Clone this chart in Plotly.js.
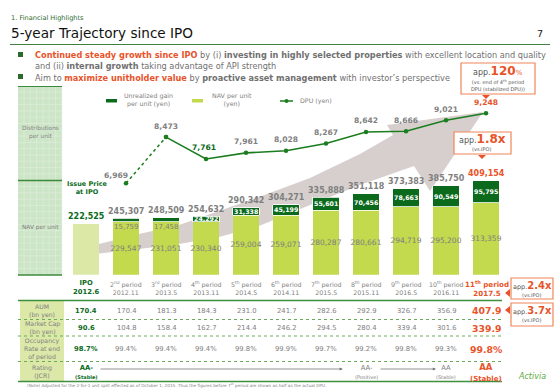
<!DOCTYPE html>
<html><head><meta charset="utf-8">
<script src="https://cdn.plot.ly/plotly-3.0.1.min.js"></script>
<style>html,body{margin:0;padding:0;background:#fff}#c{width:560px;height:389px}</style>
</head><body><div id="c"></div>
<script>
// ---- data ----
const periodNames = ['IPO','2<sup>nd</sup> period','3<sup>rd</sup> period','4<sup>th</sup> period','5<sup>th</sup> period','6<sup>th</sup> period','7<sup>th</sup> period','8<sup>th</sup> period','9<sup>th</sup> period','10<sup>th</sup> period','11<sup>th</sup> period'];
const periodDates = ['2012.6','2012.11','2013.5','2013.11','2014.5','2014.11','2015.5','2015.11','2016.5','2016.11','2017.5'];
const navPerUnit = [222525,229547,231051,230340,259004,259071,280287,280661,294719,295200,313359];
const unrealizedGain = [0,15759,17458,24292,31338,45199,55601,70456,78663,90549,95795];
const totalPerUnit = [222525,245307,248509,254632,290342,304271,335888,351118,373383,385750,409154];
const dpu = [null,6969,8473,7761,7961,8028,8267,8642,8666,9021,9248];
const aum = ['170.4','170.4','181.3','184.3','231.0','241.7','282.6','292.9','326.7','356.9','407.9'];
const marketCap = ['90.6','104.8','158.4','162.7','214.4','246.2','294.5','280.4','339.4','301.6','339.9'];
const occupancy = ['98.7%','99.4%','99.4%','99.4%','99.8%','99.9%','99.7%','99.2%','99.8%','99.3%','99.8%'];
const ratings = ['AA-','','','','','','','AA-','','AA','AA'];
const outlooks = ['(Stable)','','','','','','','(Positive)','','(Stable)','(Stable)'];

// ---- helpers ----
const W=560,H=389;
const X=v=>v/W, Y=v=>1-v/H;
const idx = periodDates.map((_,i)=>i);
const DARK='#0b6a1c', LIGHT='#c3d94e', PALE='#dbe8a6', LINE='#1b7d1f', OR='#e8532a', ORB='#f08658', GR='#7f7f7f';
const F='DejaVu Sans';
const last = idx.length-1;

const traces = [
 {type:'bar', x:idx, y:navPerUnit, marker:{color:idx.map(i=>i===0?PALE:LIGHT), line:{width:0}},
  text:navPerUnit.map((v,i)=>i===0?'':v.toLocaleString('en-US')), textposition:'inside', insidetextanchor:'middle',
  textfont:{family:F,size:7.5,color:GR}, constraintext:'none', textangle:0, hoverinfo:'none'},
 {type:'bar', x:idx, y:unrealizedGain, marker:{color:DARK, line:{color:'#ffffff',width:0.8}}, hoverinfo:'none'},
 {type:'scatter', x:[1,2], y:[dpu[1],dpu[2]], yaxis:'y2', mode:'lines+markers', line:{color:LINE,width:1.5,dash:'dot'}, marker:{size:4.5,color:LINE}, hoverinfo:'none'},
 {type:'scatter', x:idx.slice(2), y:dpu.slice(2), yaxis:'y2', mode:'lines+markers', line:{color:LINE,width:1.6}, marker:{size:4.5,color:LINE}, hoverinfo:'none'}
];

const ann = [];
const A = o => ann.push(Object.assign({showarrow:false, font:{family:F,size:7,color:GR}}, o));
const P = (x,y,text,size,color,xa,extra) => A(Object.assign({xref:'paper',yref:'paper',x:X(x),y:Y(y),text:text,xanchor:xa||'center',yanchor:'middle',font:{family:F,size:size,color:color}},extra||{}));

// header
P(9,18,'1. Financial Highlights',6.6,'#2e6b2e','left');
P(9,33,'5-year Trajectory since IPO',13.6,'#111','left');
P(545,34,'7',9.5,'#111','right');
// bullets
const bB = s=>'<b>'+s+'</b>', bO = s=>'<b><span style="color:'+OR+'">'+s+'</span></b>';
P(33,55,bO('Continued steady growth since IPO')+' by (i) '+bB('investing in highly selected properties')+' with excellent location and quality',8.2,'#707070','left');
P(33,66,'and (ii) '+bB('internal growth')+' taking advantage of API strength',8.2,'#707070','left');
P(33,78,'Aim to '+bO('maximize unitholder value')+' by '+bB('proactive asset management')+' with investor\u2019s perspective',8.2,'#707070','left');

// left panel labels
P(40,133,'Distributions<br>per unit',5.8,GR);
P(40,227,'NAV per unit',5.8,GR);
P(87,188,'<b>Issue Price<br>at IPO</b>',6.5,DARK);

// legend
P(122,100,'Unrealized gain<br>per unit (yen)',6.3,GR,'left');
P(210,100,'NAV per unit<br>(yen)',6.3,GR,'left');
P(298,101,'DPU (yen)',6.3,GR,'left');

// totals above bars
idx.forEach(i=>{
  const col = i===0?DARK:(i===last?OR:GR);
  A({xref:'x',yref:'y',x:i,y:totalPerUnit[i],yshift:7,yanchor:'middle',text:'<b>'+totalPerUnit[i].toLocaleString('en-US')+'</b>',font:{family:F,size:8,color:col}});
  if(i>0){
    if(i<3) A({xref:'x',yref:'y',x:i,y:navPerUnit[i],yshift:-5,yanchor:'middle',text:unrealizedGain[i].toLocaleString('en-US'),font:{family:F,size:7,color:GR}});
    else A({xref:'x',yref:'y',x:i,y:navPerUnit[i]+unrealizedGain[i]/2,yanchor:'middle',text:'<b>'+unrealizedGain[i].toLocaleString('en-US')+'</b>',font:{family:F,size:6.3,color:'#ffffff'}});
  }
});
// DPU labels
idx.forEach(i=>{
  if(dpu[i]==null) return;
  let col = GR, xs=0;
  if(i===1){xs=-10;}
  if(i===3){col=DARK;xs=-2;}
  if(i===last) col=OR;
  A({xref:'x',yref:'y2',x:i,y:dpu[i],yshift:i===1?8:11,xshift:xs,yanchor:'middle',text:'<b>'+dpu[i].toLocaleString('en-US')+'</b>',font:{family:F,size:7.6,color:col}});
});
// period labels
idx.forEach(i=>{
  if(i===0) A({xref:'x',yref:'paper',x:i,y:Y(287.5),yanchor:'middle',text:'<b>'+periodNames[i]+'<br>'+periodDates[i]+'</b>',font:{family:F,size:6.8,color:DARK}});
  else if(i===last) A({xref:'x',yref:'paper',x:i,y:Y(288),xshift:1,yanchor:'middle',text:'<b>'+periodNames[i]+'<br>'+periodDates[i]+'</b>',font:{family:F,size:7.1,color:OR}});
  else A({xref:'x',yref:'paper',x:i,y:Y(287.5),yanchor:'middle',text:periodNames[i]+'<br>'+periodDates[i],font:{family:F,size:6.3,color:GR}});
});
// table
const rows=[[aum,310.5],[marketCap,328],[occupancy,349]];
rows.forEach(([arr,y])=>{
  idx.forEach(i=>{
    const isF=i===0,isL=i===last;
    A({xref:'x',yref:'paper',x:i,y:Y(y),yanchor:'middle',text:(isF||isL)?'<b>'+arr[i]+'</b>':arr[i],font:{family:F,size:isL?9.3:6.8,color:isF?DARK:(isL?OR:GR)}});
  });
});
idx.forEach(i=>{
  if(!ratings[i]) return;
  const isF=i===0,isL=i===last, col=isF?DARK:(isL?OR:GR);
  const t = isF||isL ? '<b>'+ratings[i]+'<br><span style="font-size:'+(isL?7:5)+'px">'+outlooks[i]+'</span></b>' : ratings[i]+'<br><span style="font-size:5px">'+outlooks[i]+'</span>';
  A({xref:'x',yref:'paper',x:i,y:Y(372),yanchor:'middle',text:t,font:{family:F,size:isL?8.5:6.8,color:col}});
});
P(42,310.5,'AUM<br>(bn yen)',6.2,GR);
P(42,328,'Market Cap<br>(bn yen)',6.2,GR);
P(42,349,'Occupancy<br>Rate at end<br>of period',6.2,GR);
P(42,372,'Rating<br>(JCR)',6.2,GR);
// rating arrows
A({xref:'x',yref:'paper',x:6.42,y:Y(369),ax:0.3,ay:Y(369),axref:'x',ayref:'paper',showarrow:true,arrowhead:2,arrowsize:0.8,arrowwidth:0.8,arrowcolor:'#777',text:' '});
A({xref:'x',yref:'paper',x:8.75,y:Y(369),ax:7.3,ay:Y(369),axref:'x',ayref:'paper',showarrow:true,arrowhead:2,arrowsize:0.8,arrowwidth:0.8,arrowcolor:'#777',text:' '});
// footnote and logo
P(25,385,'(Note) Adjusted for the 2-for-1 unit split effected as of October 1, 2015. Thus the figures before 7<sup>th</sup> period are shown as half as the actual DPU.',4.2,GR,'left');
P(532,376,'<i>Activia</i>',8,'#5aab3a');
// callouts
P(498,71,'app.<b><span style="font-size:12px;color:'+OR+'">120</span></b><span style="color:'+OR+';font-size:7px">%</span>',8,'#555');
P(498,85,'(vs. end of 4<sup>th</sup> period<br>DPU (stabilized DPU))',5,'#555');
P(482,139,'app.<b><span style="font-size:12px;color:'+OR+'">1.8x</span></b>',8,'#555');
P(482,149,'(vs.IPO)',5,'#555');
P(532,285,'app.<b><span style="font-size:10px;color:'+OR+'">2.4x</span></b>',6.5,'#555');
P(532,294.5,'(vs.IPO)',5,'#555');
P(532,310,'app.<b><span style="font-size:10px;color:'+OR+'">3.7x</span></b>',6.5,'#555');
P(532,320,'(vs.IPO)',5,'#555');

// shapes
const shapes=[];
const R=(x0,y0,x1,y1,fill,lc,lw,layer,dash)=>shapes.push({type:'rect',xref:'paper',yref:'paper',x0:X(x0),y0:Y(y0),x1:X(x1),y1:Y(y1),fillcolor:fill||'rgba(0,0,0,0)',line:{color:lc||'rgba(0,0,0,0)',width:lw||0,dash:dash||'solid'},layer:layer||'above'});
const L=(x0,y0,x1,y1,c,w,dash,layer)=>shapes.push({type:'line',xref:'paper',yref:'paper',x0:X(x0),y0:Y(y0),x1:X(x1),y1:Y(y1),line:{color:c,width:w,dash:dash||'solid'},layer:layer||'above'});
const PATH=(pts,fill,layer)=>shapes.push({type:'path',xref:'paper',yref:'paper',path:'M'+pts.map(p=>X(p[0]).toFixed(5)+','+Y(p[1]).toFixed(5)).join(' L')+' Z',fillcolor:fill,line:{width:0},layer:layer||'above'});

L(10,44.5,550,44.5,'#3f7f3f',1);
R(18,52,23,57,'#2a6a2a');
R(18,74,23,79,'#2a6a2a');
// big arrow
PATH([[95,245],[139,234],[179,225],[219,211],[259,197],[310,178],[360,154],[393,135],[387,125],[483,112],[430,191],[414,166],[360,185],[310,205],[259,226],[219,237],[179,244],[139,249],[95,254]],'#d6cfcd','below');
// left panel
R(18,86,62,275,'#cde5c7',null,0,'below');
for(let x=24;x<62;x+=6.3) L(x,86,x,275,'#dfeedb',0.6,'solid','below');
for(let y=92;y<275;y+=6.3) L(18,y,62,y,'#dfeedb',0.6,'solid','below');
L(18,86.5,62,86.5,'#3b8a3b',1.2);
L(18,180.5,62,180.5,'#3b8a3b',1.5);
L(18,275,62,275,'#3b8a3b',1.5);
// legend swatches
R(106,99,117,102.5,DARK);
R(192,99,203,102.5,LIGHT);
L(280,101,293,101,LINE,1.5);
shapes.push({type:'circle',xref:'paper',yref:'paper',x0:X(284.5),x1:X(288.5),y0:Y(99),y1:Y(103),fillcolor:LINE,line:{width:0}});
// table
R(20,301,64,381,'#dbe8a8',null,0,'below');
L(18,300.5,502,300.5,'#3f8f3f',1.3);
L(18,319.5,502,319.5,'#6aaa5a',1,'dot');
L(18,336,502,336,'#6aaa5a',1,'dot');
L(18,361.5,502,361.5,'#6aaa5a',1,'dot');
L(18,381.5,502,381.5,'#3f8f3f',1.3);
// callout boxes
R(461,63,535,94,'#ffffff',ORB,1.2);
PATH([[482,95],[490,95],[486,99]],OR);
R(454,132,511,154,'#ffffff',ORB,1.2);
PATH([[478,155],[486,155],[482,159]],OR);
R(511,278,553,299,'#ffffff',ORB,1.2);
PATH([[510,289],[510,297],[505,293]],OR);
R(511,303,553,326,'#ffffff',ORB,1.2);
PATH([[510,306],[510,314],[505,310]],OR);

const layout={width:W,height:H,margin:{l:0,r:0,t:0,b:0},paper_bgcolor:'#fff',plot_bgcolor:'rgba(0,0,0,0)',showlegend:false,
 barmode:'stack',bargap:0.335,
 xaxis:{domain:[X(66),X(506)],range:[-0.5,10.5],visible:false,fixedrange:true},
 yaxis:{domain:[Y(274.7),Y(86)],range:[0,820434],visible:false,fixedrange:true},
 yaxis2:{overlaying:'y',range:[3992,10138],visible:false,fixedrange:true},
 annotations:ann,shapes:shapes,font:{family:F}};
Plotly.newPlot('c',traces,layout,{staticPlot:true,displayModeBar:false});
</script></body></html>
